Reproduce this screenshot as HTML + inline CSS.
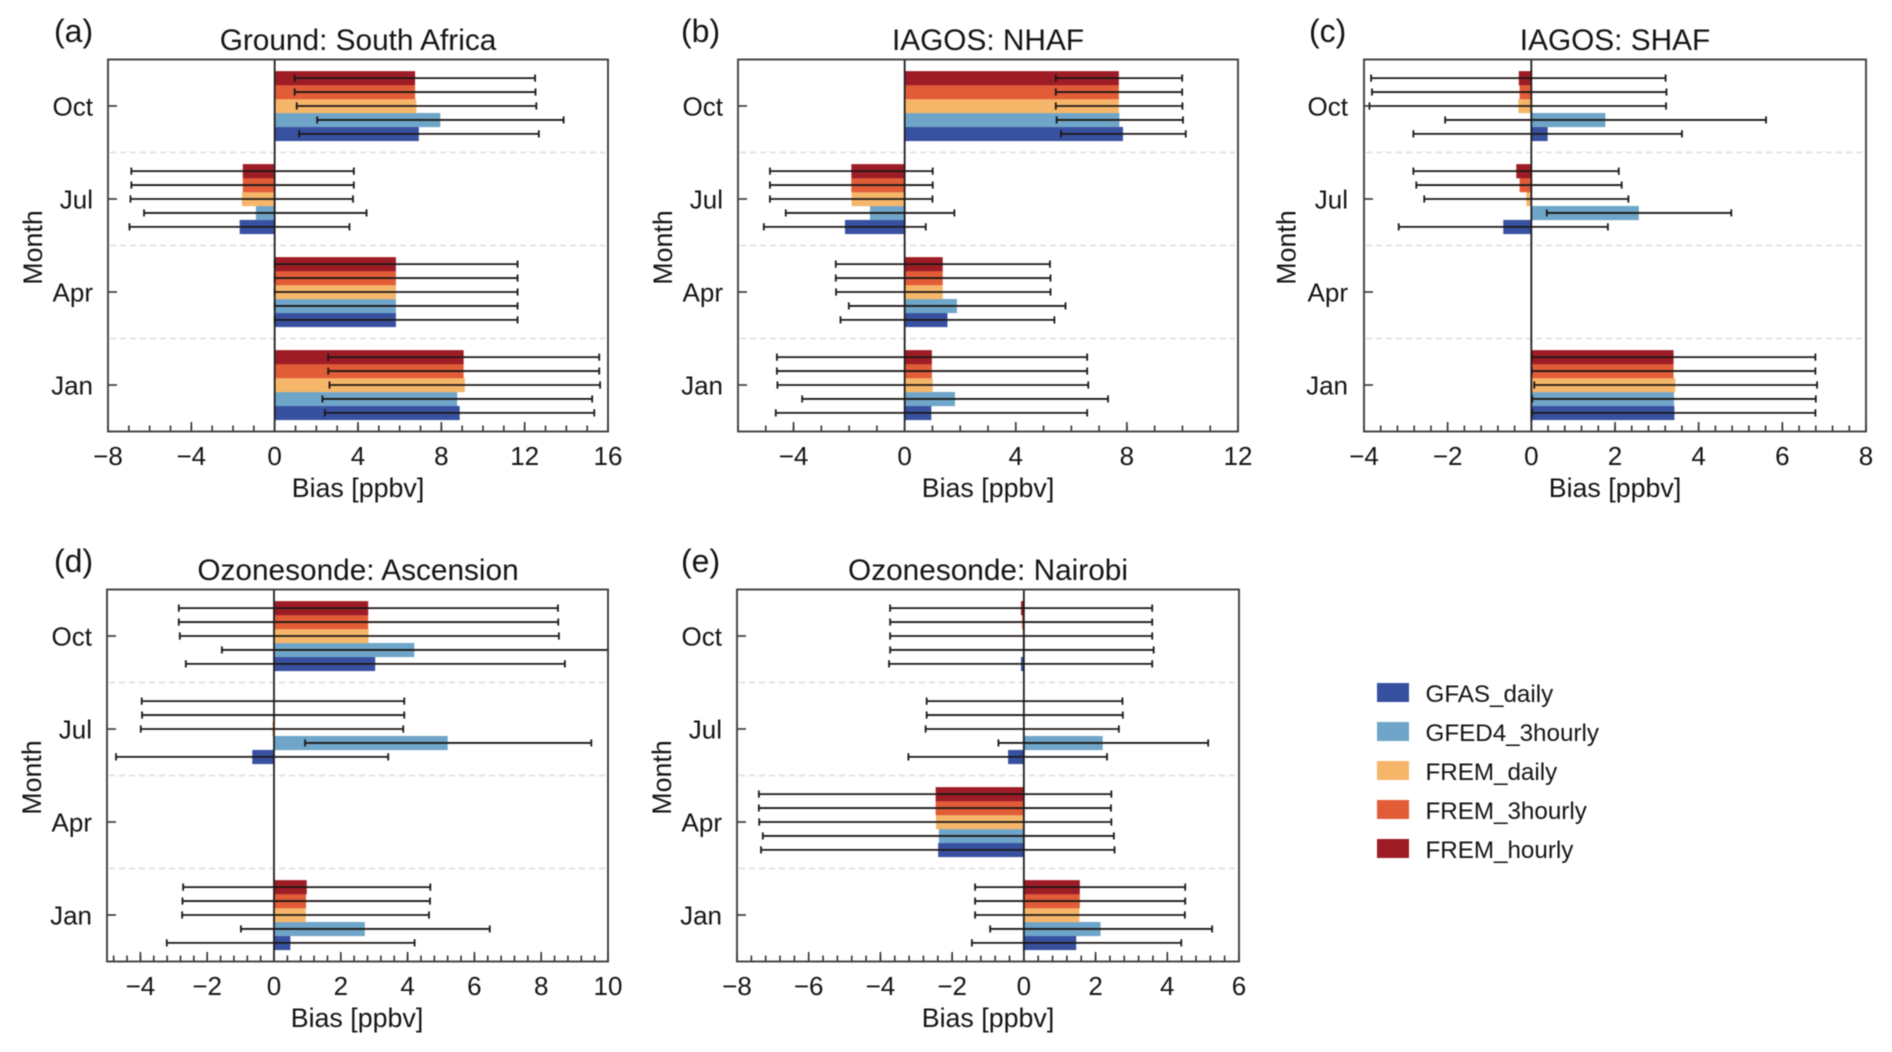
<!DOCTYPE html>
<html lang="en">
<head>
<meta charset="utf-8">
<title>Bias by month for five regions</title>
<style>
  html, body { margin: 0; padding: 0; background: #fff; }
  body { width: 1892px; height: 1052px; overflow: hidden; }
  svg { display: block; filter: blur(0.6px); }
  text { font-family: "Liberation Sans", Arial, sans-serif; fill: #141414; }
  .letter { font-size: 32px; }
  .title { font-size: 29.8px; text-anchor: middle; }
  .axis-title { font-size: 26.8px; text-anchor: middle; }
  .tick { font-size: 26px; }
  .legend-text { font-size: 24.2px; }
</style>
</head>
<body>
<svg id="chart" xmlns="http://www.w3.org/2000/svg" width="1892" height="1052" viewBox="0 0 1892 1052">
  <g id="panel-a">
    <text class="letter" x="54" y="42">(a)</text>
    <text class="title" x="358" y="50">Ground: South Africa</text>
    <text class="axis-title" x="358" y="497">Bias [ppbv]</text>
    <text class="axis-title" transform="translate(42,247.5) rotate(-90)">Month</text>
  </g>
  <g id="panel-b">
    <text class="letter" x="681" y="42">(b)</text>
    <text class="title" x="988" y="50">IAGOS: NHAF</text>
    <text class="axis-title" x="988" y="497">Bias [ppbv]</text>
    <text class="axis-title" transform="translate(672,247.5) rotate(-90)">Month</text>
  </g>
  <g id="panel-c">
    <text class="letter" x="1309" y="42">(c)</text>
    <text class="title" x="1615" y="50">IAGOS: SHAF</text>
    <text class="axis-title" x="1615" y="497">Bias [ppbv]</text>
    <text class="axis-title" transform="translate(1295.5,247.5) rotate(-90)">Month</text>
  </g>
  <g id="panel-d">
    <text class="letter" x="54" y="572">(d)</text>
    <text class="title" x="358" y="580">Ozonesonde: Ascension</text>
    <text class="axis-title" x="357" y="1027">Bias [ppbv]</text>
    <text class="axis-title" transform="translate(41,777.5) rotate(-90)">Month</text>
  </g>
  <g id="panel-e">
    <text class="letter" x="681" y="572">(e)</text>
    <text class="title" x="988" y="580">Ozonesonde: Nairobi</text>
    <text class="axis-title" x="988" y="1027">Bias [ppbv]</text>
    <text class="axis-title" transform="translate(671,777.5) rotate(-90)">Month</text>
  </g>
  <g id="legend">
    <g>
      <rect x="1377" y="683" width="32" height="19" fill="#37509f"/>
      <text class="legend-text" x="1425.5" y="702">GFAS_daily</text>
    </g>
    <g>
      <rect x="1377" y="722" width="32" height="19" fill="#6fa5c9"/>
      <text class="legend-text" x="1425.5" y="741">GFED4_3hourly</text>
    </g>
    <g>
      <rect x="1377" y="761" width="32" height="19" fill="#f6b66a"/>
      <text class="legend-text" x="1425.5" y="780">FREM_daily</text>
    </g>
    <g>
      <rect x="1377" y="800" width="32" height="19" fill="#e25c38"/>
      <text class="legend-text" x="1425.5" y="819">FREM_3hourly</text>
    </g>
    <g>
      <rect x="1377" y="839" width="32" height="19" fill="#9e1c26"/>
      <text class="legend-text" x="1425.5" y="858">FREM_hourly</text>
    </g>
  </g>
</svg>
<script>
// Categories, bottom to top on the y axis
const months = ['Jan', 'Apr', 'Jul', 'Oct'];
// Series, bottom to top inside each month group
const seriesNames = ['gfas-daily', 'gfed4-3hourly', 'frem-daily', 'frem-3hourly', 'frem-hourly'];

// Each row is a series; each column a month [Jan, Apr, Jul, Oct]. null = no data.
const biasA = [
  [8.88, 5.82, -1.68, 6.92],
  [8.76, 5.82, -0.90, 7.95],
  [9.13, 5.82, -1.57, 6.80],
  [9.07, 5.82, -1.53, 6.74],
  [9.07, 5.82, -1.53, 6.74]
];
const lowA = [
  [2.41, 0.00, -6.97, 1.18],
  [2.29, 0.00, -6.27, 2.04],
  [2.63, 0.00, -6.92, 1.06],
  [2.57, 0.00, -6.88, 0.96],
  [2.57, 0.00, -6.88, 0.96]
];
const highA = [
  [15.34, 11.66, 3.59, 12.68],
  [15.24, 11.66, 4.41, 13.87],
  [15.62, 11.66, 3.76, 12.56],
  [15.58, 11.66, 3.80, 12.52],
  [15.58, 11.66, 3.80, 12.50]
];

const biasB = [
  [0.96, 1.54, -2.15, 7.86],
  [1.81, 1.88, -1.25, 7.73],
  [1.01, 1.37, -1.91, 7.71],
  [0.98, 1.37, -1.92, 7.71],
  [0.98, 1.37, -1.92, 7.71]
];
const lowB = [
  [-4.64, -2.31, -5.07, 5.63],
  [-3.69, -2.01, -4.28, 5.47],
  [-4.58, -2.47, -4.85, 5.44],
  [-4.60, -2.48, -4.85, 5.44],
  [-4.60, -2.48, -4.85, 5.44]
];
const highB = [
  [6.57, 5.39, 0.76, 10.12],
  [7.32, 5.79, 1.79, 10.02],
  [6.61, 5.25, 1.00, 10.00],
  [6.57, 5.25, 1.01, 9.99],
  [6.57, 5.23, 1.01, 9.99]
];

const biasC = [
  [3.42, null, -0.67, 0.39],
  [3.41, null, 2.57, 1.77],
  [3.44, null, -0.12, -0.31],
  [3.40, null, -0.28, -0.28],
  [3.40, null, -0.36, -0.30]
];
const lowC = [
  [0.02, null, -3.17, -2.82],
  [0.02, null, 0.37, -2.06],
  [0.07, null, -2.56, -3.87],
  [0.01, null, -2.75, -3.81],
  [0.01, null, -2.82, -3.83]
];
const highC = [
  [6.79, null, 1.83, 3.60],
  [6.80, null, 4.78, 5.61],
  [6.83, null, 2.32, 3.22],
  [6.79, null, 2.16, 3.23],
  [6.79, null, 2.09, 3.21]
];

const biasD = [
  [0.49, null, -0.65, 3.03],
  [2.72, null, 5.20, 4.20],
  [0.95, null, -0.05, 2.83],
  [0.96, null, 0.00, 2.82],
  [0.98, null, 0.00, 2.82]
];
const lowD = [
  [-3.21, null, -4.73, -2.64],
  [-0.99, null, 0.93, -1.56],
  [-2.75, null, -3.99, -2.82],
  [-2.74, null, -3.95, -2.85],
  [-2.72, null, -3.96, -2.85]
];
const highD = [
  [4.21, null, 3.42, 8.71],
  [6.46, null, 9.50, 10.00],
  [4.64, null, 3.87, 8.53],
  [4.67, null, 3.90, 8.51],
  [4.68, null, 3.90, 8.50]
];

const biasE = [
  [1.46, -2.39, -0.44, -0.08],
  [2.14, -2.37, 2.20, -0.03],
  [1.55, -2.45, -0.02, -0.03],
  [1.56, -2.46, 0.00, -0.05],
  [1.56, -2.46, 0.00, -0.08]
];
const lowE = [
  [-1.45, -7.33, -3.22, -3.76],
  [-0.94, -7.28, -0.71, -3.73],
  [-1.36, -7.38, -2.74, -3.73],
  [-1.36, -7.39, -2.71, -3.73],
  [-1.36, -7.39, -2.71, -3.73]
];
const highE = [
  [4.39, 2.53, 2.32, 3.58],
  [5.25, 2.51, 5.14, 3.62],
  [4.49, 2.44, 2.65, 3.58],
  [4.50, 2.43, 2.76, 3.58],
  [4.50, 2.44, 2.75, 3.58]
];

// Tick labels
const xTicksA = [-8, -4, 0, 4, 8, 12, 16];
const xTicksB = [-4, 0, 4, 8, 12];
const xTicksC = [-4, -2, 0, 2, 4, 6, 8];
const xTicksD = [-4, -2, 0, 2, 4, 6, 8, 10];
const xTicksE = [-8, -6, -4, -2, 0, 2, 4, 6];

// Axis limits
const xLimA = [-8, 16];
const xLimB = [-6, 12];
const xLimC = [-4, 8];
const xLimD = [-5, 10];
const xLimE = [-8, 6];

// Minor tick spacing per panel
const minorStepA = 1;
const minorStepB = 1;
const minorStepC = 0.4;
const minorStepD = 0.4;
const minorStepE = 0.4;

const seriesColors = ['#37509f', '#6fa5c9', '#f6b66a', '#e25c38', '#9e1c26'];

const SVG_NS = 'http://www.w3.org/2000/svg';

function make(tag, parent, attrs) {
  const el = document.createElementNS(SVG_NS, tag);
  for (const k in attrs) el.setAttribute(k, attrs[k]);
  parent.appendChild(el);
  return el;
}

function drawPanel(id, box, xLim, xTicks, minorStep, bias, low, high) {
  const g = document.getElementById('panel-' + id);
  const bandH = (box.bottom - box.top) / months.length;
  const barH = bandH * 0.15;
  const x = v => box.left + (v - xLim[0]) / (xLim[1] - xLim[0]) * (box.right - box.left);
  const yMonth = i => box.bottom - (i + 0.5) * bandH;
  const ySeries = (i, s) => yMonth(i) - (s - 2) * barH;

  // Month separators
  for (let i = 1; i < months.length; i++) {
    const yy = box.bottom - i * bandH;
    const sep = make('line', g, { x1: box.left + 2, x2: box.right - 3, y1: yy, y2: yy, stroke: '#dcdcdc', 'stroke-width': 1.4, 'stroke-dasharray': '6 4' });
    
    
  }

  // Bars
  months.forEach((m, i) => {
    seriesNames.forEach((name, s) => {
      const v = bias[s][i];
      if (v === null) return;
      const x0 = x(0), x1 = x(v);
      const bar = make('rect', g, { x: Math.min(x0, x1), y: ySeries(i, s) - barH / 2, width: Math.abs(x1 - x0), height: barH + 0.2, fill: seriesColors[s] });
      
      
    });
  });

  // Zero line
  const zero = make('line', g, { x1: x(0), x2: x(0), y1: box.top, y2: box.bottom, stroke: '#1e1e1e', 'stroke-width': 1.8 });
  
  

  // Error bars
  months.forEach((m, i) => {
    seriesNames.forEach((name, s) => {
      const lo = low[s][i], hi = high[s][i];
      if (lo === null || hi === null) return;
      const yy = ySeries(i, s);
      const err = make('path', g, {
        d: 'M' + x(lo) + ' ' + yy + 'H' + x(hi) +
           'M' + x(lo) + ' ' + (yy - 3.6) + 'V' + (yy + 3.6) +
           'M' + x(hi) + ' ' + (yy - 3.6) + 'V' + (yy + 3.6),
        stroke: '#1c1816', 'stroke-width': 1.8, fill: 'none'
      });
      
      
    });
  });

  // Minor x ticks
  const kStart = Math.ceil(xLim[0] / minorStep - 1e-9);
  const kEnd = Math.floor(xLim[1] / minorStep + 1e-9);
  for (let k = kStart; k <= kEnd; k++) {
    const v = k * minorStep;
    const tick = make('line', g, { x1: x(v), x2: x(v), y1: box.bottom, y2: box.bottom - 6, stroke: '#333', 'stroke-width': 1.6 });
    
    
  }

  // Major x ticks and labels
  xTicks.forEach(v => {
    const tick = make('line', g, { x1: x(v), x2: x(v), y1: box.bottom, y2: box.bottom - 9.5, stroke: '#333', 'stroke-width': 1.6 });
    
    
    const label = make('text', g, { x: x(v), y: box.bottom + 33.5, 'text-anchor': 'middle', class: 'tick' });
    label.textContent = String(v).replace('-', '\u2212');
    
    
  });

  // Y ticks and labels
  months.forEach((m, i) => {
    const yy = yMonth(i);
    const tick = make('line', g, { x1: box.left, x2: box.left + 9, y1: yy, y2: yy, stroke: '#333', 'stroke-width': 1.6 });
    
    
    const label = make('text', g, { x: box.labelX, y: yy + 9.5, 'text-anchor': 'end', class: 'tick' });
    label.textContent = m;
    
    
  });

  // Frame
  const frame = make('rect', g, { x: box.left, y: box.top, width: box.right - box.left, height: box.bottom - box.top, fill: 'none', stroke: '#404040', 'stroke-width': 1.9 });
  
  
}

drawPanel('a', { left: 108, right: 608, top: 59.5, bottom: 431.5, labelX: 93 }, xLimA, xTicksA, minorStepA, biasA, lowA, highA);
drawPanel('b', { left: 738, right: 1238, top: 59.5, bottom: 431.5, labelX: 723 }, xLimB, xTicksB, minorStepB, biasB, lowB, highB);
drawPanel('c', { left: 1364, right: 1866, top: 59.5, bottom: 431.5, labelX: 1348 }, xLimC, xTicksC, minorStepC, biasC, lowC, highC);
drawPanel('d', { left: 107, right: 608, top: 589.5, bottom: 961.5, labelX: 92 }, xLimD, xTicksD, minorStepD, biasD, lowD, highD);
drawPanel('e', { left: 737, right: 1239, top: 589.5, bottom: 961.5, labelX: 722 }, xLimE, xTicksE, minorStepE, biasE, lowE, highE);
</script>
</body>
</html>
